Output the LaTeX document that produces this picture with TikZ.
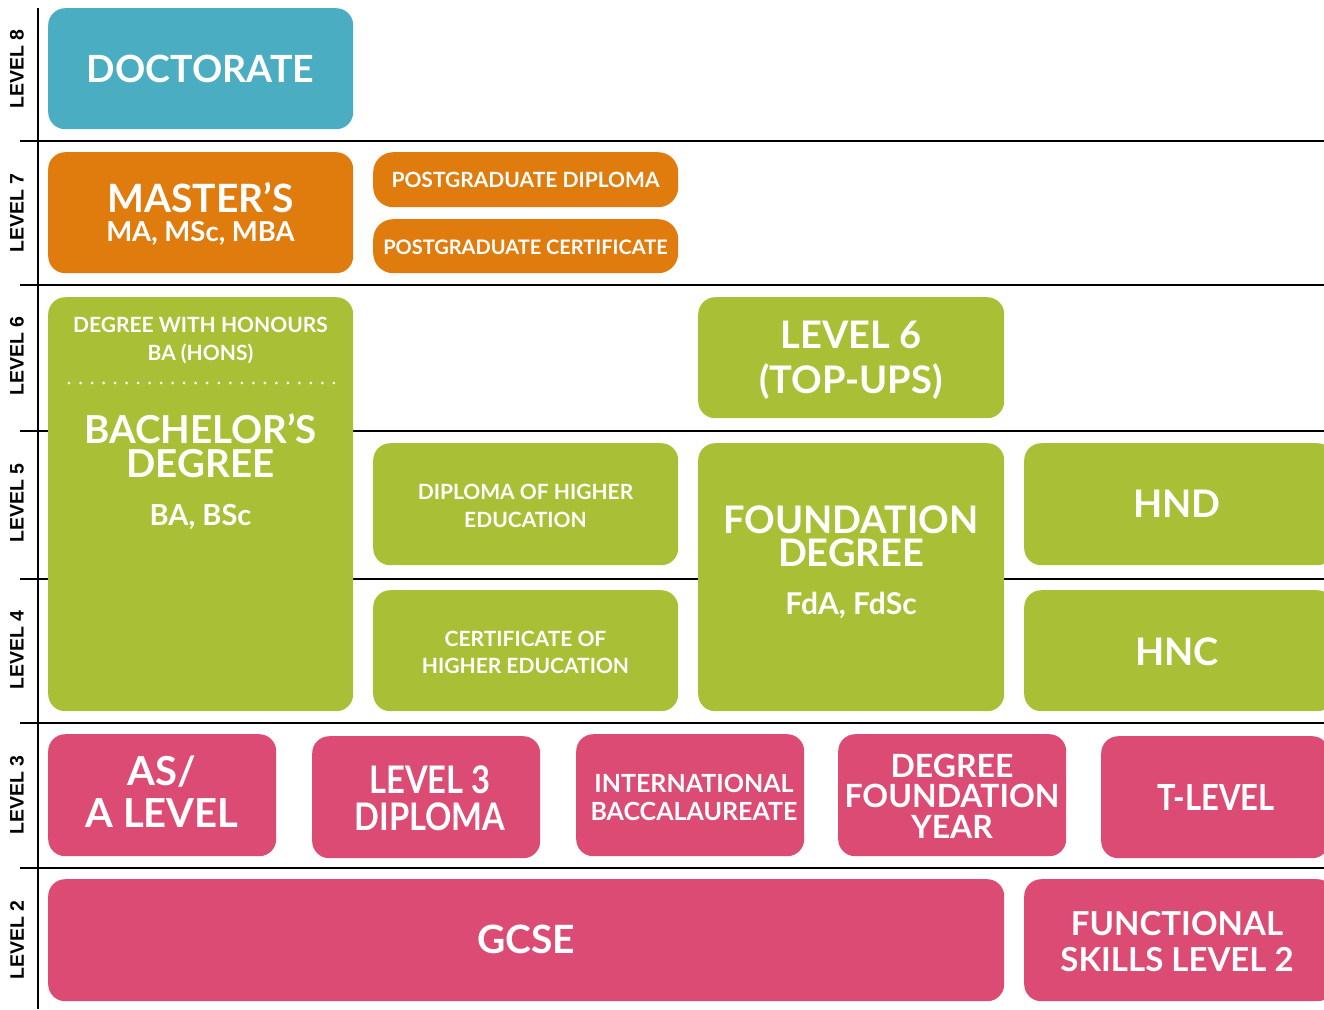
\documentclass[tikz,border=0pt]{standalone}
\usepackage{fontspec}
\setmainfont{Lato}
\newfontfamily\condfont{Lato}[FakeStretch=0.86]
\newfontfamily\levelfont{Liberation Sans}
\usepackage{tikz}
\usetikzlibrary{positioning}

\definecolor{docteal}{RGB}{74,173,194}
\definecolor{mastorange}{RGB}{224,123,14}
\definecolor{hegreen}{RGB}{169,191,54}
\definecolor{fepink}{RGB}{220,75,116}

% size and line skip
\newcommand{\fs}[2]{\fontsize{#1}{#2}\selectfont\bfseries}
\newcommand{\cfs}[2]{\condfont\fontsize{#1}{#2}\selectfont\bfseries}

\begin{document}
\begin{tikzpicture}[x=1pt,y=-1pt,
qual/.style={rounded corners=17pt, inner sep=0pt, anchor=north west},
lbl/.style={text=white, inner sep=0pt, anchor=base, align=center, text depth=0pt},
lvl/.style={font=\levelfont\bfseries\fontsize{19.5}{19.5}\selectfont, rotate=90, inner sep=0pt},
rule/.style={line width=2.6pt},
]
\useasboundingbox (0,0) rectangle (1324,1009);
\clip (0,0) rectangle (1324,1009);

% level rules
\draw[rule] (38,8) -- (38,1009);
\foreach \y in {141,285,431,579,723,868}
  \draw[rule] (20,\y) -- (1324,\y);

% level labels
\node[lvl] (lv8) at (17,69) {LEVEL 8};
\node[lvl] (lv7) at (17,213) {LEVEL 7};
\node[lvl] (lv6) at (17,356) {LEVEL 6};
\node[lvl] (lv5) at (17,503) {LEVEL 5};
\node[lvl] (lv4) at (17,650) {LEVEL 4};
\node[lvl] (lv3) at (17,795) {LEVEL 3};
\node[lvl] (lv2) at (17,940) {LEVEL 2};

%%% Level 8
\node[qual, fill=docteal, minimum width=305pt, minimum height=121pt] (doctorate) at (48,8) {};
\node[lbl, font=\fs{37.5}{40}] (doctorateT) at (200.5,82) {DOCTORATE};

%%% Level 7 (text nodes sit on their last baseline)
\node[qual, fill=mastorange, minimum width=305pt, minimum height=121pt] (masters) at (48,152) {};
\node[lbl, font=\fs{39}{40}] (mastersT) at (200.5,212) {MASTER'S};
\node[lbl, font=\fs{27.5}{30}] (mastersS) at (200.5,241) {MA, MSc, MBA};
% postgraduate awards
\node[qual, fill=mastorange, minimum width=305pt, minimum height=55pt, rounded corners=20pt] (pgdip) at (373,152) {};
\node[lbl, font=\fs{21}{24}] (pgdipT) at (525.5,187) {POSTGRADUATE DIPLOMA};
\node[qual, fill=mastorange, minimum width=305pt, minimum height=54pt, rounded corners=20pt] (pgcert) at (373,219) {};
\node[lbl, font=\fs{20}{24}] (pgcertT) at (525.5,254) {POSTGRADUATE CERTIFICATE};

%%% Levels 6 to 4
\node[qual, fill=hegreen, minimum width=305pt, minimum height=414pt] (bachelor) at (48,297) {};
\node[lbl, font=\fs{21}{28}] (honoursT) at (200.5,360) {DEGREE WITH HONOURS\\BA (HONS)};
\coordinate (dotL) at (69,383);
\coordinate (dotR) at (334,383);
\draw[white, line width=3pt, line cap=round, dash pattern=on 0pt off 11.52pt] (dotL) -- (dotR);
\node[lbl, font=\fs{38.5}{34}] (bachelorT) at (200.5,477) {BACHELOR'S\\DEGREE};
\node[lbl, font=\fs{29}{30}] (bachelorS) at (200.5,525) {BA, BSc};

\node[qual, fill=hegreen, minimum width=306pt, minimum height=121pt] (topup) at (698,297) {};
\node[lbl, font=\fs{38}{45}] (topupT) at (851,393) {LEVEL 6\\(TOP-UPS)};

\node[qual, fill=hegreen, minimum width=305pt, minimum height=122pt] (diphe) at (373,443) {};
\node[lbl, font=\fs{21}{28}] (dipheT) at (525.5,527) {DIPLOMA OF HIGHER\\EDUCATION};
\node[qual, fill=hegreen, minimum width=305pt, minimum height=121pt] (certhe) at (373,590) {};
\node[lbl, font=\fs{21}{27}] (certheT) at (525.5,673) {CERTIFICATE OF\\HIGHER EDUCATION};

\node[qual, fill=hegreen, minimum width=306pt, minimum height=268pt] (fdegree) at (698,443) {};
\node[lbl, font=\fs{38}{33}] (fdegreeT) at (851,566) {FOUNDATION\\DEGREE};
\node[lbl, font=\fs{30}{30}] (fdegreeS) at (851,614) {FdA, FdSc};

\node[qual, fill=hegreen, minimum width=310pt, minimum height=122pt] (hnd) at (1024,443) {};
\node[lbl, font=\fs{38}{40}] (hndT) at (1177,517) {HND};
\node[qual, fill=hegreen, minimum width=310pt, minimum height=121pt] (hnc) at (1024,590) {};
\node[lbl, font=\fs{38}{40}] (hncT) at (1177,665) {HNC};

%%% Level 3
\node[qual, fill=fepink, minimum width=228pt, minimum height=122pt] (alevel) at (48,734) {};
\node[lbl, font=\fs{40}{42}] (alevelT) at (162,827) {AS/\\A LEVEL};
\node[qual, fill=fepink, minimum width=228pt, minimum height=122pt] (ldiploma) at (312,736) {};
\node[lbl, font=\cfs{38}{37}] (ldiplomaT) at (430,830) {LEVEL 3\\DIPLOMA};
\node[qual, fill=fepink, minimum width=228pt, minimum height=122pt] (ibacc) at (576,734) {};
\node[lbl, font=\fs{25}{28}] (ibaccT) at (694,820) {INTERNATIONAL\\BACCALAUREATE};
\node[qual, fill=fepink, minimum width=228pt, minimum height=122pt] (dfyear) at (838,734) {};
\node[lbl, font=\fs{32}{30.5}] (dfyearT) at (952,838) {DEGREE\\FOUNDATION\\YEAR};
\node[qual, fill=fepink, minimum width=228pt, minimum height=122pt] (tlevel) at (1101,736) {};
\node[lbl, font=\cfs{36}{40}] (tlevelT) at (1216,810) {T-LEVEL};

%%% Level 2
\node[qual, fill=fepink, minimum width=956pt, minimum height=122pt] (gcse) at (48,879) {};
\node[lbl, font=\fs{39}{40}] (gcseT) at (526,953) {GCSE};
\node[qual, fill=fepink, minimum width=310pt, minimum height=122pt] (fskills) at (1024,879) {};
\node[lbl, font=\fs{33}{36}] (fskillsT) at (1177,971) {FUNCTIONAL\\SKILLS LEVEL 2};
\end{tikzpicture}
\end{document}
